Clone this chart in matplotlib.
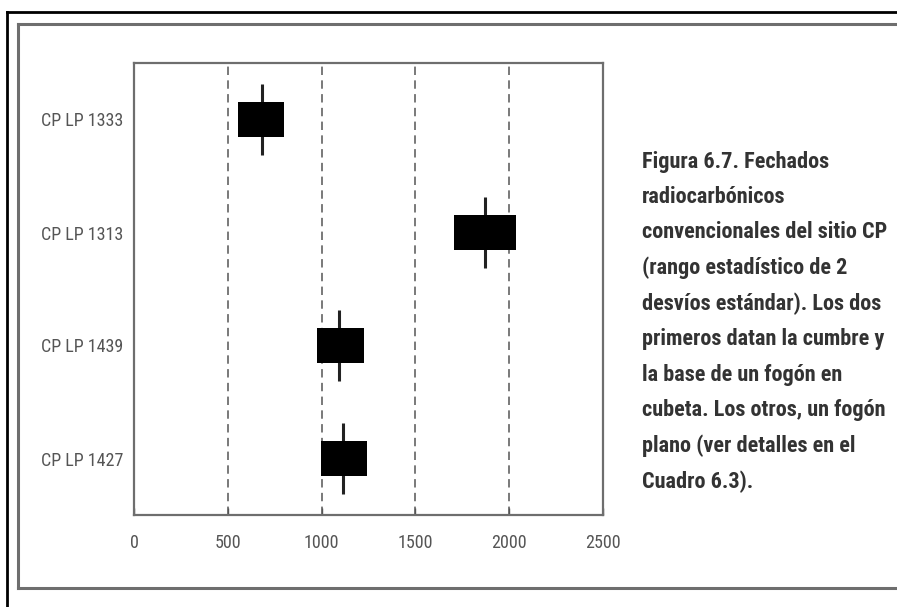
import matplotlib
matplotlib.use('Agg')
import matplotlib.pyplot as plt
from matplotlib import font_manager
from matplotlib.lines import Line2D

# fechados radiocarbonicos (rango de 2 desvios y valor central)
muestras = ['CP LP 1333', 'CP LP 1313', 'CP LP 1439', 'CP LP 1427']
rango_min = [555, 1705, 975, 995]
rango_max = [800, 2035, 1225, 1240]
centro = [680, 1870, 1095, 1115]
xticks = [0, 500, 1000, 1500, 2000, 2500]
leyenda = ('Figura 6.7. Fechados\n'
           'radiocarbónicos\n'
           'convencionales del sitio CP\n'
           '(rango estadístico de 2\n'
           'desvíos estándar). Los dos\n'
           'primeros datan la cumbre y\n'
           'la base de un fogón en\n'
           'cubeta. Los otros, un fogón\n'
           'plano (ver detalles en el\n'
           'Cuadro 6.3).')

disponibles = {f.name for f in font_manager.fontManager.ttflist}
fuente = 'DejaVu Sans'
for nombre in ['Liberation Sans Narrow', 'DejaVu Sans Condensed', 'Roboto Condensed', 'Open Sans Condensed']:
    if nombre in disponibles:
        fuente = nombre
        break
plt.rcParams['font.family'] = [fuente, 'DejaVu Sans']

W, H = 897, 607
fig = plt.figure(figsize=(W / 100, H / 100), dpi=100)
fig.patch.set_facecolor('white')

def px(x, y):
    return x / W, 1 - y / H

# marcos de la figura
x0, y0 = px(7, 12)
fig.add_artist(Line2D([x0, x0], [y0, 0], color='black', lw=2.0, transform=fig.transFigure))
fig.add_artist(Line2D([x0, 1], [y0, y0], color='black', lw=2.0, transform=fig.transFigure))
x1, y1 = px(18, 24)
_, y2 = px(18, 588)
fig.add_artist(Line2D([x1, x1], [y1, y2], color='#6e6e6e', lw=2.2, transform=fig.transFigure))
fig.add_artist(Line2D([x1, 1], [y1, y1], color='#6e6e6e', lw=2.2, transform=fig.transFigure))
fig.add_artist(Line2D([x1, 1], [y2, y2], color='#6e6e6e', lw=2.2, transform=fig.transFigure))

left, top = px(134, 63)
right, bottom = px(603, 515)
ax = fig.add_axes([left, bottom, right - left, top - bottom])

pos = list(range(len(muestras)))
for x in xticks[1:-1]:
    ax.axvline(x, color='#555555', lw=1.1, ls=(0, (5.5, 3.5)), zorder=1)

anchos = [b - a for a, b in zip(rango_min, rango_max)]
ax.barh(pos, anchos, left=rango_min, height=0.31, color='black', zorder=3)
ax.vlines(centro, [p - 0.315 for p in pos], [p + 0.315 for p in pos],
          color='#222222', lw=2.2, zorder=2)

ax.set_xlim(0, 2500)
ax.set_ylim(len(muestras) - 0.5, -0.5)
ax.set_xticks(xticks)
ax.set_xticklabels([str(v) for v in xticks])
ax.set_yticks(pos)
ax.set_yticklabels(muestras)
ax.tick_params(axis='x', direction='in', length=5, width=1, color='#555555',
               pad=14, labelsize=13, labelcolor='#555555')
ax.tick_params(axis='y', length=0, pad=8, labelsize=13, labelcolor='#555555')
for s in ax.spines.values():
    s.set_color('#6e6e6e')
    s.set_linewidth(1.6)

fig.text(642 / W, 1 - 151 / H, leyenda, ha='left', va='top', fontsize=16,
         fontweight='bold', color='#333333', linespacing=1.77)

fig.savefig('out.png', dpi=100)
